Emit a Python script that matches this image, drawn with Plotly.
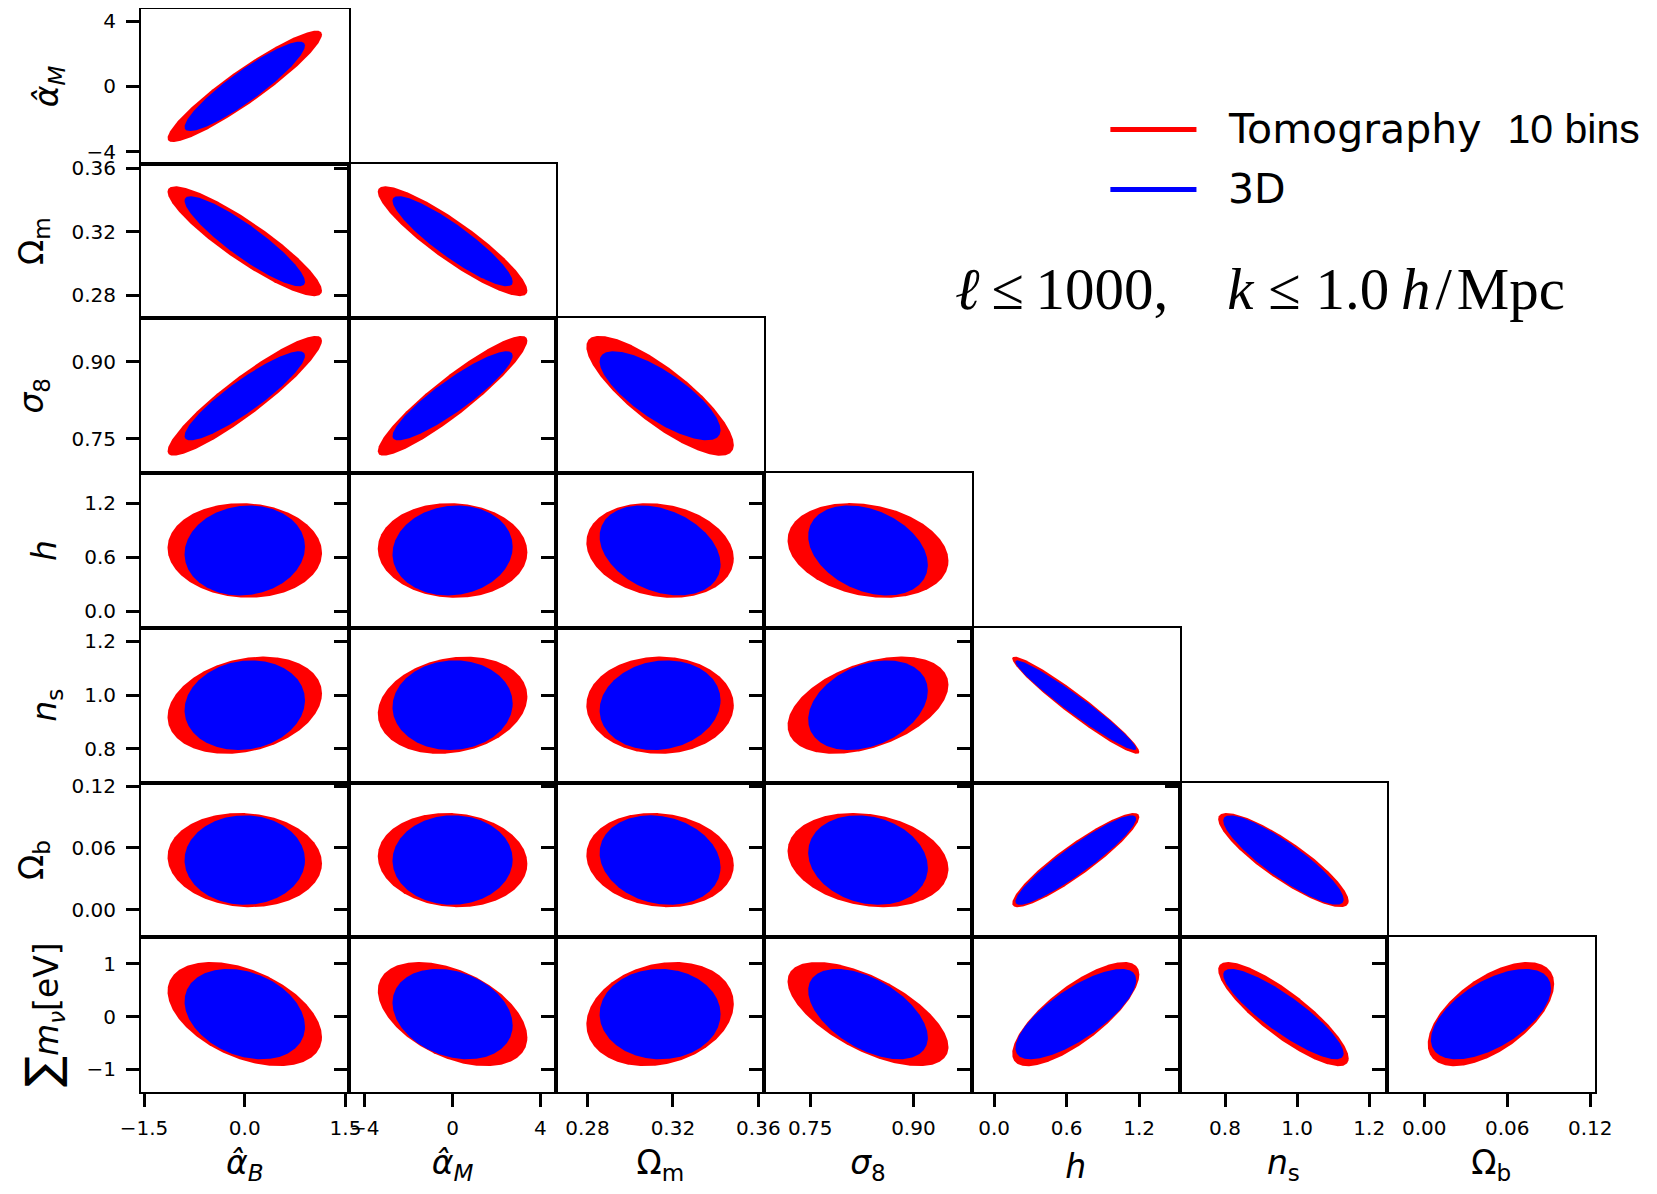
import numpy as np
import plotly.graph_objects as go

# ---------------- data ----------------
param_labels = ["<i>α̂</i><sub><i>B</i></sub>", "<i>α̂</i><sub><i>M</i></sub>", "Ω<sub>m</sub>",
                "<i>σ</i><sub>8</sub>", "<i>h</i>", "<i>n</i><sub>s</sub>", "Ω<sub>b</sub>",
                "<span style='font-size:46px'>∑</span><i>m</i><sub><i>ν</i></sub>[eV]"]
fiducial = [0.0, 0.0, 0.314, 0.834, 0.676, 0.962, 0.0482, 0.048]
axis_lo = [-1.545, -4.735, 0.2655, 0.683, -0.184, 0.674, -0.0267, -1.43]
axis_hi = [1.548, 4.735, 0.3627, 0.985, 1.535, 1.250, 0.1234, 1.505]
tick_vals = [[-1.5, 0.0, 1.5], [-4, 0, 4], [0.28, 0.32, 0.36], [0.75, 0.90],
             [0.0, 0.6, 1.2], [0.8, 1.0, 1.2], [0.00, 0.06, 0.12], [-1, 0, 1]]
tick_text = [["−1.5", "0.0", "1.5"], ["−4", "0", "4"], ["0.28", "0.32", "0.36"], ["0.75", "0.90"],
             ["0.0", "0.6", "1.2"], ["0.8", "1.0", "1.2"], ["0.00", "0.06", "0.12"], ["−1", "0", "1"]]

series_names = ["Tomography  <span style='font-family:Liberation Sans'>10 bins</span>", "3D"]
series_colors = ["#ff0000", "#0000ff"]

# half-extent of the contour along each parameter
extent_tomo = [1.150, 3.41, 0.0345, 0.117, 0.526, 0.181, 0.0457, 0.988]
extent_3d = [0.897, 2.74, 0.0283, 0.087, 0.500, 0.167, 0.0434, 0.857]

# correlation of (row parameter, column parameter), lower triangle
corr_tomo = [
    [0.93],
    [-0.90, -0.90],
    [0.92, 0.92, -0.82],
    [-0.05, -0.04, -0.17, -0.22],
    [0.24, 0.18, 0.00, 0.42, -0.962],
    [-0.07, -0.08, -0.11, -0.19, 0.915, -0.87],
    [-0.44, -0.45, 0.20, -0.63, 0.76, -0.85, 0.58],
]
corr_3d = [
    [0.91],
    [-0.90, -0.90],
    [0.90, 0.90, -0.77],
    [0.08, 0.08, -0.31, -0.32],
    [0.11, 0.04, 0.11, 0.32, -0.968],
    [0.00, 0.01, -0.16, -0.17, 0.925, -0.88],
    [-0.28, -0.25, 0.00, -0.52, 0.75, -0.87, 0.57],
]

extents = [extent_tomo, extent_3d]
corrs = [corr_tomo, corr_3d]

# ---------------- figure ----------------
N = 7
fig = go.Figure()
layout = {}
t = np.linspace(0, 2 * np.pi, 400)

axis_common = dict(showline=True, mirror=True, linecolor="black", linewidth=2,
                   showgrid=False, zeroline=False, ticks="outside", ticklen=13,
                   tickwidth=2.5, tickcolor="black", automargin=False,
                   tickfont=dict(family="DejaVu Sans", size=20, color="black"))

n = 0
for r in range(N):
    for c in range(r + 1):
        n += 1
        pi, pj = r + 1, c
        xname = "xaxis" if n == 1 else f"xaxis{n}"
        yname = "yaxis" if n == 1 else f"yaxis{n}"
        xref = "x" if n == 1 else f"x{n}"
        yref = "y" if n == 1 else f"y{n}"
        xa = dict(axis_common)
        xa.update(domain=[c / N, (c + 1) / N], range=[axis_lo[pj], axis_hi[pj]],
                  anchor=yref, tickvals=tick_vals[pj], ticktext=tick_text[pj],
                  ticklabelstandoff=4)
        if r == N - 1:
            xa.update(showticklabels=True,
                      title=dict(text=param_labels[pj], standoff=18,
                                 font=dict(family="DejaVu Sans", size=33, color="black")))
        else:
            xa.update(ticks="", showticklabels=False)
        ya = dict(axis_common)
        ya.update(domain=[1 - (r + 1) / N, 1 - r / N], range=[axis_lo[pi], axis_hi[pi]],
                  anchor=xref, tickvals=tick_vals[pi], ticktext=tick_text[pi],
                  ticklabelstandoff=6)
        if c == 0:
            ya.update(showticklabels=True,
                      title=dict(text=param_labels[pi], standoff=18,
                                 font=dict(family="DejaVu Sans", size=33, color="black")))
        else:
            ya.update(showticklabels=False)
        layout[xname] = xa
        layout[yname] = ya

        for s in range(2):
            ax_ = extents[s][pj]
            ay_ = extents[s][pi]
            rho = corrs[s][r][c]
            ex = fiducial[pj] + ax_ * np.cos(t)
            ey = fiducial[pi] + ay_ * (rho * np.cos(t) + np.sqrt(1 - rho ** 2) * np.sin(t))
            fig.add_trace(go.Scatter(x=ex, y=ey, mode="lines", fill="toself",
                                     fillcolor=series_colors[s], line=dict(width=0, color=series_colors[s]),
                                     name=series_names[s], showlegend=False, hoverinfo="skip",
                                     xaxis=xref, yaxis=yref))

# manual legend (long line symbols like the reference)
shapes = []
annotations = []
leg_y = [0.8888, 0.8334]
for s in range(2):
    shapes.append(dict(type="line", xref="paper", yref="paper", x0=0.6667, x1=0.7259,
                       y0=leg_y[s], y1=leg_y[s], line=dict(color=series_colors[s], width=5)))
    annotations.append(dict(xref="paper", yref="paper", x=0.746, y=leg_y[s], xanchor="left",
                            yanchor="middle", showarrow=False, text=series_names[s],
                            font=dict(family="DejaVu Sans", size=41, color="black")))

annotations.append(dict(xref="paper", yref="paper", x=0.5585, y=0.741, xanchor="left",
                        yanchor="middle", showarrow=False,
                        text="<i>ℓ</i>\u2009≤\u20091000,\u2003<i>k</i>\u2005≤\u20051.0\u2009<i>h</i>\u200a/\u200aMpc",
                        font=dict(family="Liberation Serif", size=59, color="black")))

# the page body adds an 8 px margin around the figure
layout.update(width=1641, height=1178, plot_bgcolor="white", paper_bgcolor="white",
              margin=dict(l=132.6, r=54.4, t=0.5, b=94), showlegend=False,
              shapes=shapes, annotations=annotations,
              font=dict(family="DejaVu Sans", color="black"))
fig.update_layout(**layout)
fig.write_html("out.html")
